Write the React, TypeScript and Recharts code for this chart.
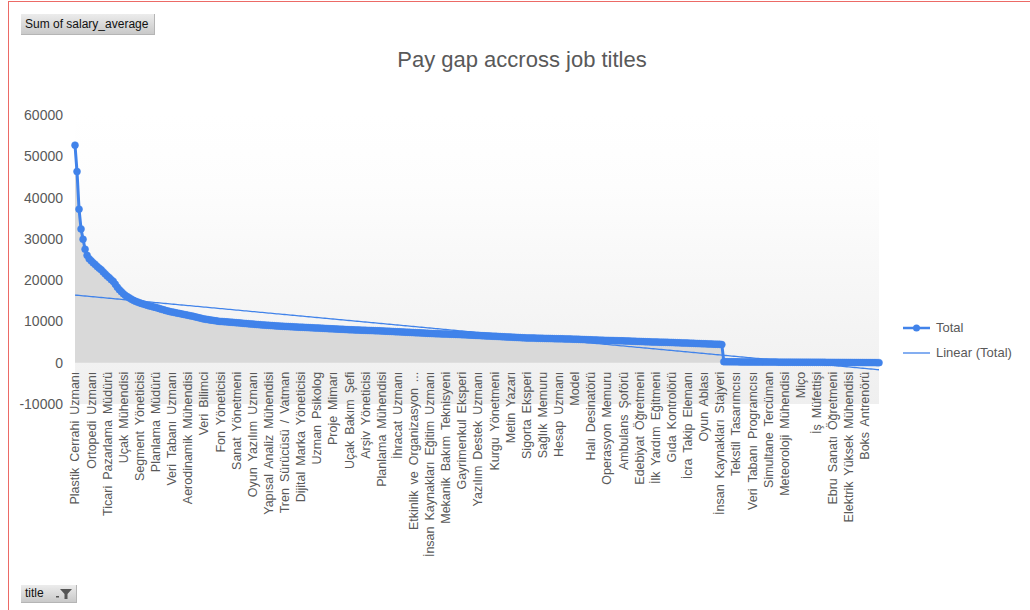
import React from 'react';
import { ComposedChart, Area, Line, XAxis, YAxis, CartesianGrid, Legend } from 'recharts';

// job titles shown on the axis (every 8th category)
const titles = [
  'Plastik Cerrahi Uzmanı', 'Ortopedi Uzmanı', 'Ticari Pazarlama Müdürü', 'Uçak Mühendisi',
  'Segment Yöneticisi', 'Planlama Müdürü', 'Veri Tabanı Uzmanı', 'Aerodinamik Mühendisi',
  'Veri Bilimci', 'Fon Yöneticisi', 'Sanat Yönetmeni', 'Oyun Yazılım Uzmanı',
  'Yapısal Analiz Mühendisi', 'Tren Sürücüsü / Vatman', 'Dijital Marka Yöneticisi', 'Uzman Psikolog',
  'Proje Mimarı', 'Uçak Bakım Şefi', 'Arşiv Yöneticisi', 'Planlama Mühendisi',
  'İhracat Uzmanı', 'Etkinlik ve Organizasyon ...', 'İnsan Kaynakları Eğitim Uzmanı', 'Mekanik Bakım Teknisyeni',
  'Gayrimenkul Eksperi', 'Yazılım Destek Uzmanı', 'Kurgu Yönetmeni', 'Metin Yazarı',
  'Sigorta Eksperi', 'Sağlık Memuru', 'Hesap Uzmanı', 'Model',
  'Halı Desinatörü', 'Operasyon Memuru', 'Ambulans Şoförü', 'Edebiyat Öğretmeni',
  'İlk Yardım Eğitmeni', 'Gıda Kontrolörü', 'İcra Takip Elemanı', 'Oyun Ablası',
  'İnsan Kaynakları Stajyeri', 'Tekstil Tasarımcısı', 'Veri Tabanı Programcısı', 'Simultane Tercüman',
  'Meteoroloji Mühendisi', 'Miço', 'İş Müfettişi', 'Ebru Sanatı Öğretmeni',
  'Elektrik Yüksek Mühendisi', 'Boks Antrenörü',
];
const LABEL_EVERY = 8;

// sum of salary_average, sorted descending (one row of 8 per axis label)
const salary = [
  52700, 46300, 37200, 32400, 29900, 27500, 26000, 25200,
  24700, 24200, 23800, 23300, 22900, 22500, 22000, 21500,
  21000, 20600, 20100, 19700, 19000, 18300, 17700, 17200,
  16700, 16300, 16000, 15700, 15400, 15100, 14900, 14700,
  14500, 14350, 14200, 14050, 13900, 13750, 13650, 13500,
  13400, 13250, 13100, 12950, 12800, 12650, 12550, 12400,
  12300, 12200, 12100, 12000, 11900, 11800, 11700, 11600,
  11500, 11400, 11300, 11200, 11050, 10950, 10850, 10700,
  10600, 10500, 10450, 10350, 10300, 10200, 10150, 10050,
  10000, 9980, 9950, 9900, 9860, 9820, 9780, 9740,
  9700, 9650, 9610, 9570, 9520, 9480, 9440, 9400,
  9350, 9310, 9270, 9230, 9190, 9150, 9110, 9080,
  9050, 9020, 8990, 8950, 8920, 8890, 8860, 8830,
  8800, 8780, 8750, 8730, 8700, 8680, 8650, 8620,
  8600, 8580, 8550, 8530, 8500, 8480, 8450, 8420,
  8400, 8380, 8350, 8330, 8300, 8280, 8250, 8220,
  8200, 8180, 8150, 8130, 8100, 8080, 8050, 8020,
  8000, 7980, 7960, 7940, 7920, 7900, 7880, 7860,
  7850, 7830, 7810, 7800, 7780, 7760, 7740, 7720,
  7700, 7680, 7650, 7630, 7600, 7580, 7550, 7530,
  7500, 7480, 7450, 7430, 7400, 7380, 7350, 7330,
  7300, 7280, 7250, 7230, 7200, 7180, 7150, 7120,
  7100, 7080, 7060, 7040, 7020, 7000, 6980, 6960,
  6950, 6930, 6910, 6900, 6880, 6860, 6840, 6820,
  6800, 6780, 6750, 6730, 6700, 6680, 6650, 6620,
  6600, 6580, 6550, 6530, 6500, 6480, 6450, 6420,
  6400, 6380, 6350, 6330, 6300, 6280, 6250, 6220,
  6200, 6180, 6150, 6130, 6100, 6080, 6050, 6020,
  6000, 5990, 5980, 5970, 5960, 5940, 5930, 5910,
  5900, 5890, 5880, 5870, 5860, 5840, 5830, 5810,
  5800, 5790, 5780, 5770, 5760, 5740, 5730, 5710,
  5700, 5680, 5660, 5640, 5620, 5600, 5580, 5560,
  5550, 5530, 5510, 5490, 5470, 5450, 5430, 5410,
  5400, 5390, 5380, 5370, 5350, 5340, 5320, 5310,
  5300, 5280, 5260, 5240, 5220, 5200, 5180, 5160,
  5150, 5130, 5110, 5090, 5070, 5050, 5030, 5010,
  5000, 4990, 4980, 4970, 4960, 4940, 4930, 4910,
  4900, 4880, 4860, 4840, 4820, 4800, 4780, 4760,
  4750, 4730, 4710, 4690, 4670, 4650, 4630, 4610,
  4600, 4580, 4560, 4540, 4520, 4500, 4480, 4460,
  4450, 4400, 250, 240, 230, 225, 220, 215,
  210, 205, 200, 195, 190, 185, 180, 178,
  175, 172, 170, 168, 165, 162, 160, 158,
  155, 152, 150, 148, 145, 142, 140, 138,
  135, 132, 130, 128, 125, 122, 120, 118,
  115, 112, 110, 108, 105, 102, 100, 98,
  95, 92, 90, 88, 85, 82, 80, 78,
  75, 72, 70, 68, 65, 62, 60, 58,
  55, 52, 50, 48, 45, 42, 40, 38,
  35, 32, 30, 28, 25, 22, 20, 18,
];

const yTicks = [-10000, 0, 10000, 20000, 30000, 40000, 50000, 60000];

// least squares trendline, like Excel's "Linear (Total)"
const n = salary.length;
const xMean = (n + 1) / 2;
const yMean = salary.reduce((s, v) => s + v, 0) / n;
let sxy = 0;
let sxx = 0;
salary.forEach((v, i) => {
  sxy += (i + 1 - xMean) * (v - yMean);
  sxx += (i + 1 - xMean) * (i + 1 - xMean);
});
const slope = sxy / sxx;
const intercept = yMean - slope * xMean;

const data = salary.map((v, i) => ({
  idx: i,
  title: i % LABEL_EVERY === 0 ? titles[i / LABEL_EVERY] : '',
  total: v,
  trend: intercept + slope * (i + 1),
}));

const BLUE = '#4183ea';
const GREY = '#595959';
const FONT = '"Liberation Sans", Arial, sans-serif';

const PLOT_TOP = 115;
const PLOT_BOTTOM = 404;
const Y_MIN = -10000;
const Y_MAX = 60000;
// category labels hang from the zero line, not from the bottom of the plot
const ZERO_SHIFT = ((PLOT_BOTTOM - PLOT_TOP) * (0 - Y_MIN)) / (Y_MAX - Y_MIN);

const XTick = (props: any) => {
  const { x, y, payload } = props;
  const row = payload ? data[payload.value] : undefined;
  if (!row || !row.title) return null;
  const y0 = y - ZERO_SHIFT + 9;
  return (
    <text
      x={x}
      y={y0}
      dy="0.36em"
      transform={`rotate(-90, ${x}, ${y0})`}
      textAnchor="end"
      fill={GREY}
      fontSize={12.5}
      fontFamily={FONT}
      style={{ wordSpacing: 2.5 }}
    >
      {row.title}
    </text>
  );
};

const LegendBox = () => (
  <div style={{ fontFamily: FONT, fontSize: 13, color: GREY, paddingLeft: 3 }}>
    <div style={{ display: 'flex', alignItems: 'center', height: 25 }}>
      <svg width={27} height={12}>
        <line x1={0} y1={6} x2={27} y2={6} stroke={BLUE} strokeWidth={2.5} />
        <circle cx={13.5} cy={6} r={3.5} fill={BLUE} />
      </svg>
      <span style={{ marginLeft: 6 }}>Total</span>
    </div>
    <div style={{ display: 'flex', alignItems: 'center', height: 25 }}>
      <svg width={27} height={12}>
        <line x1={0} y1={6} x2={27} y2={6} stroke={BLUE} strokeWidth={1.3} />
      </svg>
      <span style={{ marginLeft: 6 }}>Linear (Total)</span>
    </div>
  </div>
);

const buttonStyle: React.CSSProperties = {
  position: 'absolute',
  background: 'linear-gradient(#ececec, #c9c9c9)',
  borderRight: '1px solid #b5b5b5',
  borderBottom: '1px solid #b5b5b5',
  fontFamily: FONT,
  fontSize: 12,
  color: '#111',
  boxSizing: 'border-box',
  paddingLeft: 4,
};

export default function App() {
  return (
    <div style={{ position: 'absolute', left: 0, top: 0, width: 1030, height: 610, background: '#fff', overflow: 'hidden' }}>
      <div
        style={{
          position: 'absolute',
          left: 8,
          top: 1,
          width: 1040,
          height: 640,
          borderLeft: '1px solid #ec6a66',
          borderTop: '1px solid #ec6a66',
        }}
      />
      <div style={{ ...buttonStyle, left: 21, top: 14, width: 134, height: 21, lineHeight: '20px' }}>
        Sum of salary_average
      </div>
      <div
        style={{
          position: 'absolute',
          left: 0,
          top: 47,
          width: 1044,
          textAlign: 'center',
          fontFamily: FONT,
          fontSize: 22,
          color: GREY,
        }}
      >
        Pay gap accross job titles
      </div>
      <div style={{ position: 'absolute', left: 0, top: 0 }}>
        <ComposedChart
          width={1030}
          height={610}
          data={data}
          margin={{ top: PLOT_TOP, right: 21, left: 15, bottom: 176 }}
        >
          <defs>
            <linearGradient id="plotBg" x1="0" y1="0" x2="0" y2="1">
              <stop offset="0%" stopColor="#ffffff" />
              <stop offset="25%" stopColor="#fdfdfd" />
              <stop offset="100%" stopColor="#efefef" />
            </linearGradient>
          </defs>
          <CartesianGrid horizontal={false} vertical={false} fill="url(#plotBg)" stroke="none" />
          <XAxis
            dataKey="idx"
            type="category"
            interval={LABEL_EVERY - 1}
            axisLine={false}
            tickLine={false}
            tickSize={0}
            tickMargin={0}
            height={30}
            tick={<XTick />}
          />
          <YAxis
            domain={[Y_MIN, Y_MAX]}
            ticks={yTicks}
            width={60}
            axisLine={false}
            tickLine={false}
            tickSize={0}
            tickMargin={12}
            tick={{ fill: GREY, fontSize: 14, fontFamily: FONT }}
          />
          <Area
            type="linear"
            dataKey="total"
            fill="#d9d9d9"
            fillOpacity={1}
            stroke="none"
            legendType="none"
            isAnimationActive={false}
          />
          <Line
            type="linear"
            dataKey="total"
            name="Total"
            stroke={BLUE}
            strokeWidth={3}
            dot={{ r: 3.5, fill: BLUE, stroke: BLUE, strokeWidth: 0.5 }}
            isAnimationActive={false}
          />
          <Line
            type="linear"
            dataKey="trend"
            name="Linear (Total)"
            stroke={BLUE}
            strokeWidth={1.3}
            dot={false}
            isAnimationActive={false}
          />
          <Legend
            layout="vertical"
            align="right"
            verticalAlign="middle"
            width={130}
            wrapperStyle={{ left: 900, top: 315, width: 130 }}
            content={() => <LegendBox />}
          />
        </ComposedChart>
      </div>
      <div style={{ ...buttonStyle, left: 21, top: 585, width: 56, height: 18, lineHeight: '17px' }}>
        title
        <svg width={18} height={12} style={{ position: 'absolute', left: 34, top: 3 }}>
          <rect x={1} y={8} width={3} height={1.5} fill="#555" />
          <polygon points="5,1 17,1 12.5,6 12.5,11 9.5,11 9.5,6" fill="#555" />
        </svg>
      </div>
    </div>
  );
}
